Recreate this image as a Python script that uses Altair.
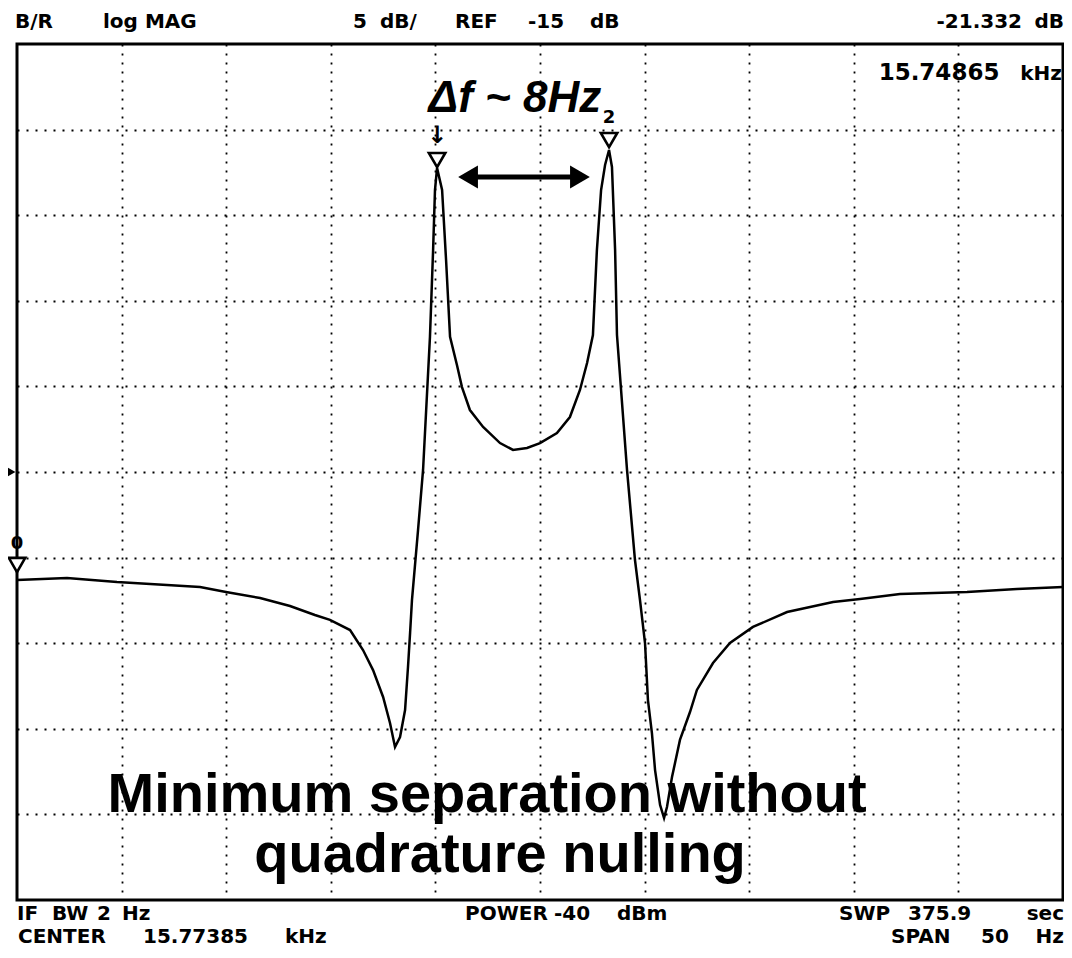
import altair as alt
import pandas as pd

# ---- trace data: frequency offset from centre (Hz), magnitude (dB) ----
freq_hz = [-25.0, -22.61, -20.22, -17.83, -16.25, -15.01, -13.38, -11.95, -10.76, -10.04,
           -9.08, -8.46, -7.98, -7.5, -7.17, -6.93, -6.69, -6.45, -6.31, -6.21,
           -6.12, -5.83, -5.59, -5.26, -5.11, -5.02, -4.92, -4.68, -4.49, -4.3,
           -3.97, -3.73, -3.35, -2.72, -1.91, -1.29, -0.62, 0.0, 0.81, 1.43,
           1.91, 2.25, 2.53, 2.72, 2.92, 3.11, 3.3, 3.44, 3.59, 3.68,
           4.16, 4.54, 4.78, 5.02, 5.16, 5.35, 5.5, 5.74, 5.93, 6.07,
           6.31, 6.69, 7.17, 7.5, 8.27, 9.08, 10.18, 11.81, 14.01, 15.3,
           17.21, 20.41, 22.8, 25.0]
mag_db = [-21.31, -21.19, -21.43, -21.6, -21.72, -22.01, -22.36, -22.83, -23.35, -23.64,
          -24.23, -25.4, -26.57, -28.14, -29.66, -31.06, -30.48, -28.9, -26.39, -24.4,
          -22.48, -18.39, -14.88, -7.11, -2.03, 1.47, 2.76, 1.47, -2.62, -7.11,
          -8.75, -10.04, -11.38, -12.37, -13.31, -13.71, -13.6, -13.31, -12.72, -11.79,
          -10.21, -8.63, -7.0, -2.03, 1.47, 2.93, 3.81, 2.82, -2.03, -7.0,
          -14.88, -20.14, -22.48, -24.99, -28.32, -30.25, -32.41, -34.45, -35.21, -34.57,
          -32.82, -30.65, -29.02, -27.73, -26.16, -24.99, -24.05, -23.18, -22.59, -22.42,
          -22.13, -22.01, -21.83, -21.72]

# grid divisions (5 Hz/div, 5 dB/div)
x_grid = [-20, -15, -10, -5, 0, 5, 10, 15, 20]
y_grid = [-35, -30, -25, -20, -15, -10, -5, 0, 5]
x_domain = [-25, 25]
y_domain = [-40, 10]

# markers
marker_x = [-4.92, 3.3, -25.0]
marker_y = [3.22, 4.39, -20.43]
marker_lbl = ["\u2193", "2", "0"]
marker_lbl_y = [4.6, 5.68, -19.2]
marker_lbl_size = [24, 18, 18]
ref_level = -15

# instrument header / footer labels (pixel positions relative to the plot)
left_tokens = ["B/R", "log MAG", "5", "dB/", "REF", "-15", "dB",
               "IF", "BW", "2", "Hz", "POWER", "-40", "dBm", "SWP", "375.9",
               "CENTER", "15.77385", "kHz", "SPAN", "50"]
left_px = [-2, 86, 336, 363, 438, 511, 573,
           0, 35, 80, 105, 448, 537, 600, 822, 891,
           1, 126, 268, 874, 964]
left_py = [-16, -16, -16, -16, -16, -16, -16,
           876, 876, 876, 876, 876, 876, 876, 876, 876,
           899, 899, 899, 899, 899]
right_tokens = ["-21.332", "dB", "kHz", "sec", "Hz"]
right_px = [1005, 1047, 1045, 1047, 1047]
right_py = [-16, -16, 36, 876, 899]
center_tokens = ["15.74865"]
center_px = [922]
center_py = [36]

trace = pd.DataFrame({"f": freq_hz, "m": mag_db})
markers = pd.DataFrame({"f": marker_x, "m": marker_y, "lbl": marker_lbl, "ly": marker_lbl_y,
                        "fs": marker_lbl_size})
ltok = pd.DataFrame({"t": left_tokens, "px": left_px, "py": left_py})
rtok = pd.DataFrame({"t": right_tokens, "px": right_px, "py": right_py})
ctok = pd.DataFrame({"t": center_tokens, "px": center_px, "py": center_py})

xs = alt.Scale(domain=x_domain, nice=False, zero=False)
ys = alt.Scale(domain=y_domain, nice=False, zero=False)

x_axis = alt.Axis(values=x_grid, grid=True, gridColor="black", gridDash=[2, 7], gridWidth=1.8,
                  labels=False, ticks=False, domain=False, title=None)
y_axis = alt.Axis(values=y_grid, grid=True, gridColor="black", gridDash=[2, 7], gridWidth=1.8,
                  labels=False, ticks=False, domain=False, title=None)

line = alt.Chart(trace).mark_line(color="black", strokeWidth=2.5).encode(
    x=alt.X("f:Q", scale=xs, axis=x_axis),
    y=alt.Y("m:Q", scale=ys, axis=y_axis),
)

tri = alt.Chart(markers).mark_point(shape="triangle-down", size=270, filled=True,
                                    fill="white", stroke="black", strokeWidth=2.6, opacity=1).encode(
    x=alt.X("f:Q", scale=xs), y=alt.Y("m:Q", scale=ys))

tri_lbl = alt.Chart(markers).mark_text(font="DejaVu Sans", fontWeight="bold",
                                       color="black").encode(
    x=alt.X("f:Q", scale=xs), y=alt.Y("ly:Q", scale=ys), text="lbl:N",
    size=alt.Size("fs:Q", scale=None, legend=None))

ref = alt.Chart(pd.DataFrame({"f": [x_domain[0] - 0.29], "m": [ref_level]})).mark_point(
    shape="triangle-right", size=110, filled=True, color="black", opacity=1).encode(
    x=alt.X("f:Q", scale=xs), y=alt.Y("m:Q", scale=ys))

# double headed arrow between peaks
arrow_df = pd.DataFrame({"f": [-3.44], "f2": [1.91], "m": [2.23]})
arrow_line = alt.Chart(arrow_df).mark_rule(color="black", strokeWidth=5).encode(
    x=alt.X("f:Q", scale=xs), x2="f2:Q", y=alt.Y("m:Q", scale=ys))
heads = pd.DataFrame({"f": [-3.44, 1.91], "m": [2.23, 2.23], "s": ["l", "r"]})
head_l = alt.Chart(heads[heads.s == "l"]).mark_point(shape="triangle-left", size=520, filled=True,
                                                     color="black", opacity=1).encode(
    x=alt.X("f:Q", scale=xs), y=alt.Y("m:Q", scale=ys))
head_r = alt.Chart(heads[heads.s == "r"]).mark_point(shape="triangle-right", size=520, filled=True,
                                                     color="black", opacity=1).encode(
    x=alt.X("f:Q", scale=xs), y=alt.Y("m:Q", scale=ys))

ann = pd.DataFrame({
    "t": ["\u0394f ~  8Hz", "Minimum separation without", "quadrature nulling"],
    "f": [-1.2, -2.53, -1.91],
    "m": [6.0, -34.86, -38.36],
})
df_txt = alt.Chart(ann.iloc[[0]]).mark_text(font="Liberation Sans", fontWeight="bold", fontStyle="italic",
                                            fontSize=44, baseline="alphabetic", align="center",
                                            color="black").encode(
    x=alt.X("f:Q", scale=xs), y=alt.Y("m:Q", scale=ys), text="t:N")
big_txt = alt.Chart(ann.iloc[[1, 2]]).mark_text(font="Liberation Sans", fontWeight="bold",
                                                fontSize=56, baseline="alphabetic", align="center",
                                                color="black").encode(
    x=alt.X("f:Q", scale=xs), y=alt.Y("m:Q", scale=ys), text="t:N")

tok_style = dict(font="DejaVu Sans", fontWeight="bold", fontSize=20,
                 baseline="alphabetic", color="black")
ltxt = alt.Chart(ltok).mark_text(align="left", **tok_style).encode(
    x=alt.X("px:Q", scale=None, axis=None), y=alt.Y("py:Q", scale=None, axis=None), text="t:N")
rtxt = alt.Chart(rtok).mark_text(align="right", **tok_style).encode(
    x=alt.X("px:Q", scale=None, axis=None), y=alt.Y("py:Q", scale=None, axis=None), text="t:N")
ctxt = alt.Chart(ctok).mark_text(align="center", font="DejaVu Sans", fontWeight="bold", fontSize=23,
                                 baseline="alphabetic", color="black").encode(
    x=alt.X("px:Q", scale=None, axis=None), y=alt.Y("py:Q", scale=None, axis=None), text="t:N")

chart = alt.layer(
    line, arrow_line, head_l, head_r, tri, tri_lbl, ref, df_txt, big_txt, ltxt, rtxt, ctxt
).properties(
    width=1046, height=856,
    autosize=alt.AutoSizeParams(type="none"),
    padding={"left": 9, "top": 36, "right": 1, "bottom": 54},
    background="white",
).configure_view(stroke="black", strokeWidth=3)

chart.save("out.html", embed_options={"renderer": "svg", "actions": False})
